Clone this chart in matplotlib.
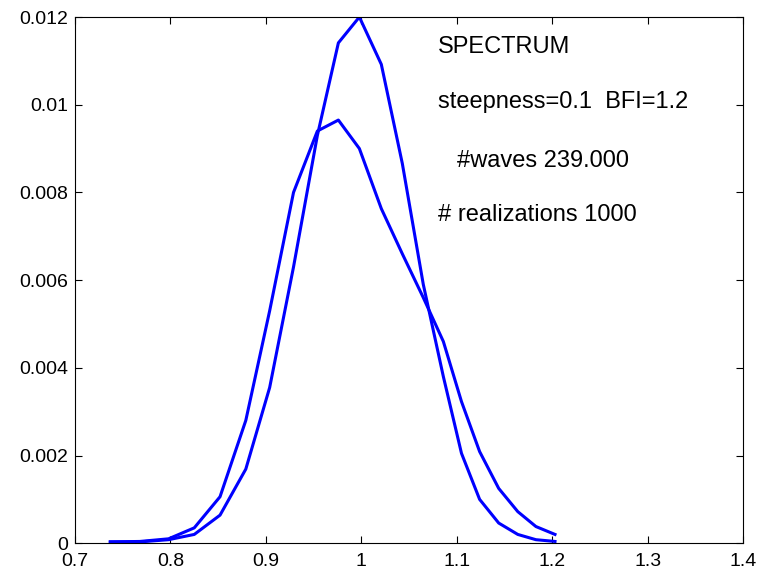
import matplotlib
matplotlib.use("Agg")
import matplotlib.pyplot as plt

# 読み取った値
x = [0.737, 0.768, 0.798, 0.825, 0.852, 0.879, 0.904, 0.929, 0.954, 0.976, 0.998,
     1.021, 1.043, 1.065, 1.086, 1.105, 1.124, 1.144, 1.164, 1.183, 1.203]
y_narrow = [0.00003, 0.00003, 0.00008, 0.0002, 0.00064, 0.00169, 0.00355, 0.0063,
            0.0093, 0.01141, 0.0120, 0.01092, 0.00866, 0.0059, 0.0038, 0.00205,
            0.0010, 0.00046, 0.0002, 0.00008, 0.00004]
y_wide = [0.00003, 0.00004, 0.0001, 0.00035, 0.00106, 0.0028, 0.0053, 0.0080,
          0.0094, 0.00965, 0.0090, 0.00763, 0.0066, 0.0056, 0.0046, 0.00323,
          0.00209, 0.00125, 0.00072, 0.00038, 0.0002]

x_ticks = [0.7, 0.8, 0.9, 1.0, 1.1, 1.2, 1.3, 1.4]
x_labels = ["0.7", "0.8", "0.9", "1", "1.1", "1.2", "1.3", "1.4"]
y_ticks = [0, 0.002, 0.004, 0.006, 0.008, 0.01, 0.012]
y_labels = ["0", "0.002", "0.004", "0.006", "0.008", "0.01", "0.012"]

plt.rcParams["font.family"] = ["Liberation Sans", "DejaVu Sans"]

fig = plt.figure(figsize=(7.69, 5.73), dpi=100)
ax = fig.add_axes([0.0975, 0.052, 0.8687, 0.9183])

ax.plot(x, y_narrow, color="#0000ff", lw=2.2)
ax.plot(x, y_wide, color="#0000ff", lw=2.2)

ax.set_xlim(0.7, 1.4)
ax.set_ylim(0, 0.012)
ax.set_xticks(x_ticks)
ax.set_xticklabels(x_labels)
ax.set_yticks(y_ticks)
ax.set_yticklabels(y_labels)
ax.tick_params(direction="in", top=True, right=True, length=5, labelsize=14)
ax.tick_params(axis="x", pad=7)
ax.tick_params(axis="y", pad=5)

# 注釈
ax.text(1.0806, 0.01131, "SPECTRUM", fontsize=17, va="center")
ax.text(1.0806, 0.01006, "steepness=0.1  BFI=1.2", fontsize=17, va="center")
ax.text(1.1008, 0.00871, "#waves 239.000", fontsize=17, va="center")
ax.text(1.0806, 0.00748, "# realizations 1000", fontsize=17, va="center")

fig.savefig("out.png", dpi=100)
